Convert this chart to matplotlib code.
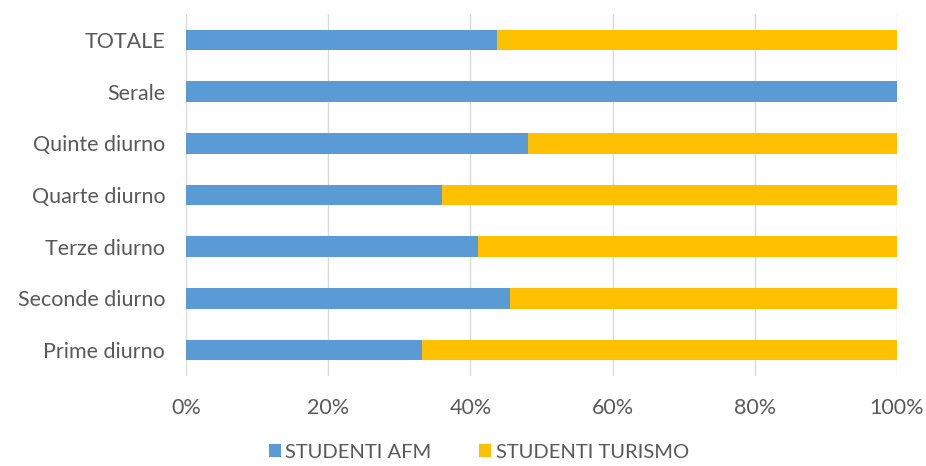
import matplotlib.pyplot as plt
from matplotlib.ticker import FuncFormatter

plt.rcParams['font.family'] = ['Lato', 'DejaVu Sans']

# data (percentages)
categories = ["Prime diurno", "Seconde diurno", "Terze diurno", "Quarte diurno",
              "Quinte diurno", "Serale", "TOTALE"]
afm = [33.2, 45.5, 41.0, 36.0, 48.1, 100.0, 43.7]
turismo = [100 - v for v in afm]

fig = plt.figure(figsize=(9.26, 4.66), dpi=100)
ax = fig.add_axes([186 / 926, 1 - 376 / 466, 711 / 926, 362 / 466])

y = range(len(categories))
ax.barh(y, afm, height=0.4, color="#5B9BD5", label="STUDENTI AFM", zorder=3)
ax.barh(y, turismo, left=afm, height=0.4, color="#FFC000",
        label="STUDENTI TURISMO", zorder=3)

ax.set_xlim(0, 100)
ax.set_ylim(-0.5, len(categories) - 0.5)
ax.set_xticks([0, 20, 40, 60, 80, 100])
ax.xaxis.set_major_formatter(FuncFormatter(lambda v, p: f"{v:.0f}%"))
ax.set_yticks(list(y))
ax.set_yticklabels(categories)
ax.grid(axis="x", color="#d9d9d9", linewidth=1, zorder=0)
for s in ax.spines.values():
    s.set_visible(False)
ax.tick_params(length=0, labelsize=15.5, colors="#595959")
ax.tick_params(axis="x", pad=16)
ax.tick_params(axis="y", pad=15)

fig.legend(loc="lower center", bbox_to_anchor=(0.517, -0.028), ncol=2, frameon=False,
           fontsize=14.5, labelcolor="#595959", handlelength=0.6, handleheight=0.6,
           handletextpad=0.2, columnspacing=2.4)

fig.savefig("out.png", dpi=100)
